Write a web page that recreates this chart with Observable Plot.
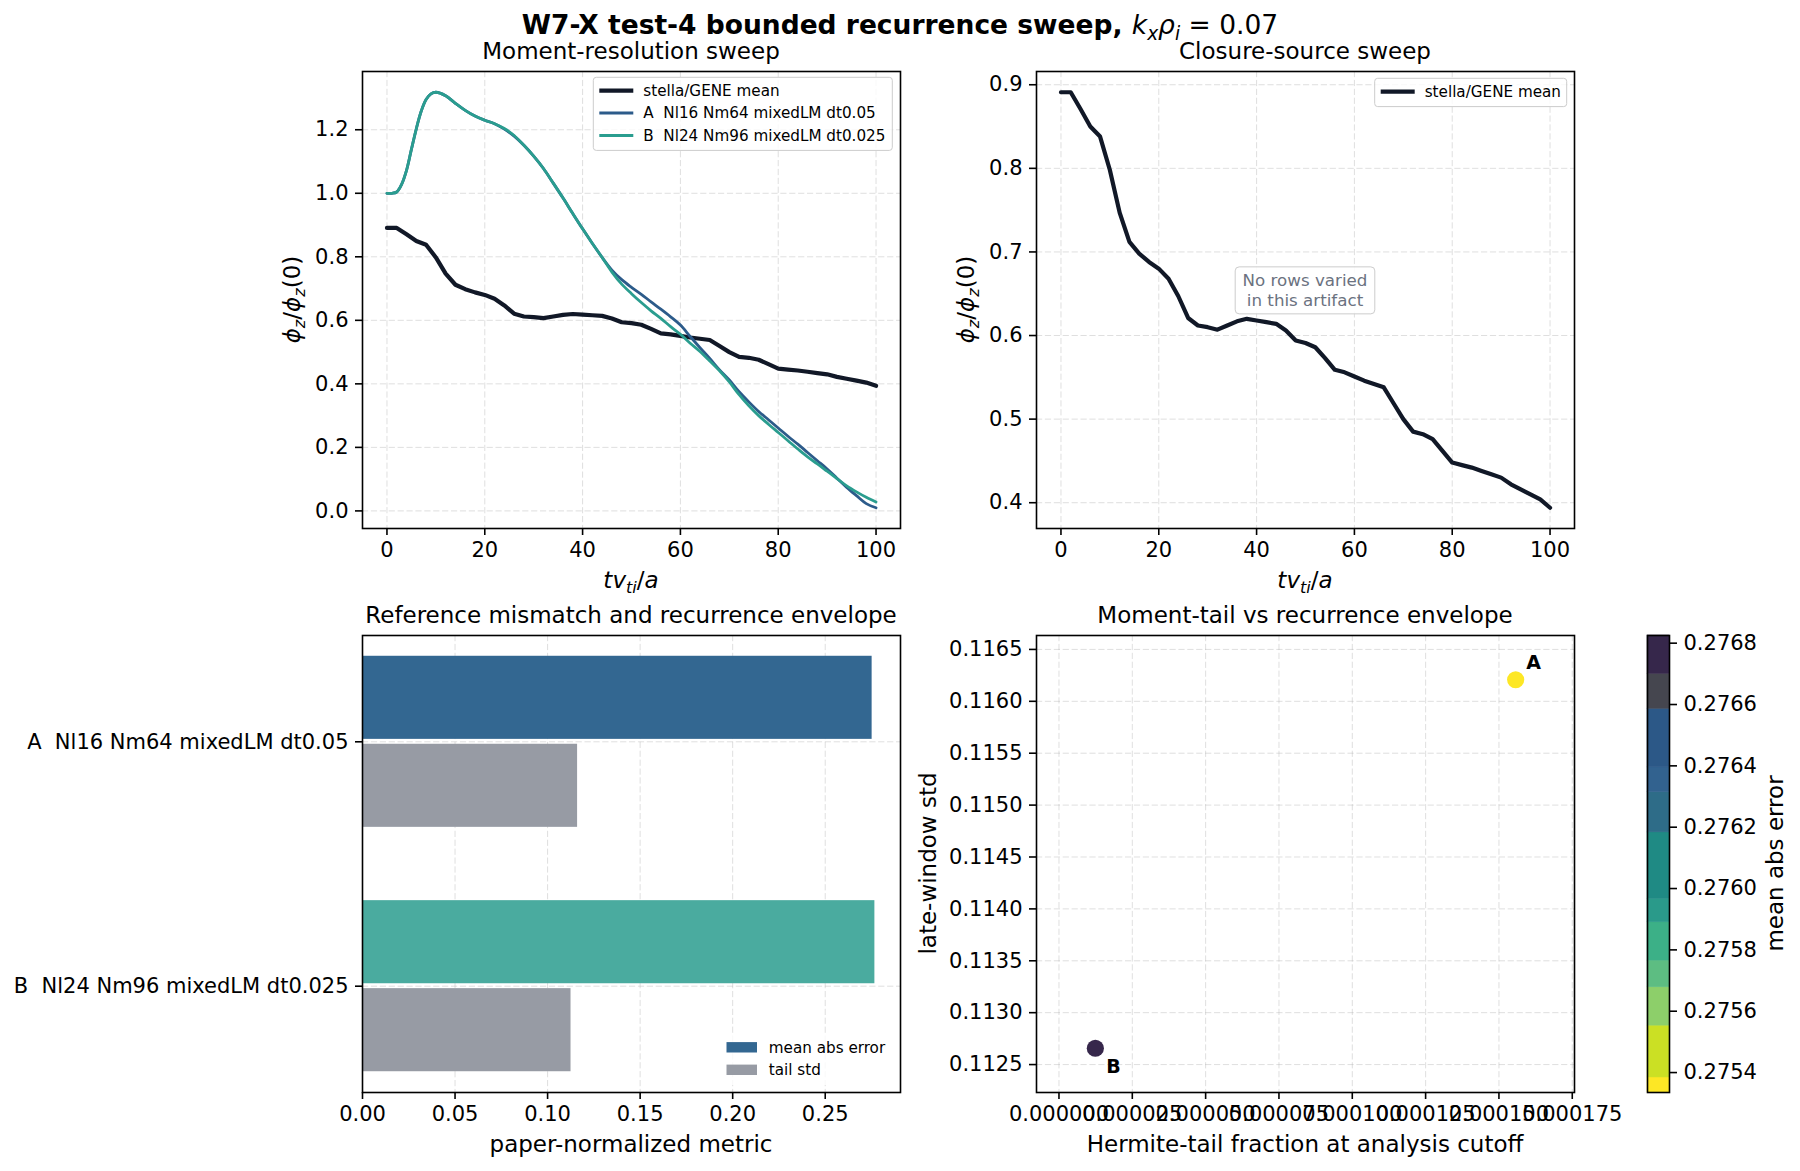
<!DOCTYPE html>
<html>
<head>
<meta charset="utf-8">
<script src="https://cdn.jsdelivr.net/npm/d3@7"></script>
<script src="https://cdn.jsdelivr.net/npm/@observablehq/plot@0.6"></script>
<style>
  body { margin: 0; background: #fff; }
  #fig { position: relative; width: 1800px; height: 1171px; background: #fff; overflow: hidden;
         font-family: "DejaVu Sans", sans-serif; }
  .panel { position: absolute; }
  .panel svg { overflow: visible; }
  #overlay { position: absolute; left: 0; top: 0; pointer-events: none; }
  #overlay text, #overlay tspan { white-space: pre; }
</style>
</head>
<body>
<div id="fig"></div>
<script>
// ---- stella/GENE reference mean, phi_z / phi_z(0) against t v_ti / a ----
const timeMean = [0, 2, 4, 6, 8, 10, 12, 14, 16, 18, 20, 22, 24, 26, 28, 30, 32, 34, 36, 38, 40,
  42, 44, 46, 48, 50, 52, 54, 56, 58, 60, 62, 64, 66, 68, 70, 72, 74, 76, 78, 80,
  82, 84, 86, 88, 90, 92, 94, 96, 98, 100];
const phiMean = [0.891, 0.891, 0.871, 0.850, 0.838, 0.798, 0.747, 0.712, 0.698, 0.688, 0.680,
  0.668, 0.647, 0.621, 0.612, 0.610, 0.607, 0.612, 0.617, 0.620, 0.618,
  0.616, 0.614, 0.606, 0.594, 0.591, 0.586, 0.573, 0.559, 0.556, 0.551,
  0.546, 0.542, 0.538, 0.519, 0.500, 0.485, 0.482, 0.476, 0.462, 0.448,
  0.445, 0.442, 0.438, 0.434, 0.430, 0.422, 0.416, 0.410, 0.404, 0.394];

// ---- moment-resolution runs ----
const timeRun = [0, 1, 2, 3, 4, 5, 6, 7, 8, 9, 10, 12, 14, 16, 18, 20, 22, 24, 26, 28, 30,
  32, 34, 36, 38, 40, 42, 44, 46, 48, 50, 52, 54, 56, 58, 60, 62, 64, 66, 68, 70,
  72, 74, 76, 78, 80, 82, 84, 86, 88, 90, 92, 94, 96, 98, 100];
const phiRunA = [1.000, 1.000, 1.004, 1.028, 1.072, 1.138, 1.203, 1.258, 1.295, 1.313, 1.318,
  1.307, 1.283, 1.261, 1.243, 1.230, 1.219, 1.202, 1.180, 1.151, 1.117,
  1.078, 1.032, 0.985, 0.936, 0.888, 0.842, 0.798, 0.758, 0.728, 0.704,
  0.682, 0.658, 0.635, 0.611, 0.585, 0.549, 0.514, 0.480, 0.444, 0.412,
  0.375, 0.343, 0.313, 0.287, 0.261, 0.235, 0.210, 0.184, 0.158, 0.132,
  0.103, 0.074, 0.048, 0.023, 0.010];
const phiRunB = [1.000, 1.000, 1.004, 1.028, 1.072, 1.138, 1.203, 1.258, 1.295, 1.313, 1.318,
  1.307, 1.283, 1.261, 1.243, 1.230, 1.219, 1.204, 1.182, 1.151, 1.117,
  1.078, 1.032, 0.985, 0.936, 0.888, 0.842, 0.798, 0.752, 0.714, 0.684,
  0.656, 0.630, 0.606, 0.580, 0.556, 0.528, 0.502, 0.472, 0.441, 0.406,
  0.366, 0.331, 0.300, 0.273, 0.247, 0.221, 0.195, 0.170, 0.148, 0.125,
  0.102, 0.079, 0.060, 0.043, 0.028];

// ---- per-run summary metrics ----
const runTags = ["A", "B"];
const runNames = ["A  Nl16 Nm64 mixedLM dt0.05", "B  Nl24 Nm96 mixedLM dt0.025"];
const meanAbsError = [0.275335, 0.276825];
const tailStd = [0.116208, 0.112657];
const hermiteTail = [0.0001557, 0.0000124];

// ---- ticks ----
const timeTicks = [0, 20, 40, 60, 80, 100];
const phiTicksResolution = [0, 0.2, 0.4, 0.6, 0.8, 1.0, 1.2];
const phiTicksClosure = [0.4, 0.5, 0.6, 0.7, 0.8, 0.9];
const metricTicks = [0, 0.05, 0.10, 0.15, 0.20, 0.25];
const hermiteTicks = [0, 0.000025, 0.00005, 0.000075, 0.0001, 0.000125, 0.00015, 0.000175];
const stdTicks = [0.1125, 0.1130, 0.1135, 0.1140, 0.1145, 0.1150, 0.1155, 0.1160, 0.1165];
const errorTicks = [0.2754, 0.2756, 0.2758, 0.2760, 0.2762, 0.2764, 0.2766, 0.2768];

// ---- stepped colour map for mean abs error (band edges, low to high) ----
const errorBandEdges = [0.275384, 0.275553, 0.275678, 0.275765, 0.275890, 0.275966,
  0.276183, 0.276314, 0.276395, 0.276586, 0.276700];
const errorBandColors = ["#fde725", "#cbe024", "#8dcf6a", "#5dbd82", "#3cb087", "#2a9a8a",
  "#1f8a84", "#2e6c88", "#32628f", "#2c5887", "#45464f", "#36274b"];

// ---- styling ----
const FONT = '"DejaVu Sans", sans-serif';
const meanColor = "#111827";
const runColors = ["#2c5b8a", "#2a9d8f"];
const barColors = ["#336791", "#4aab9f"];
const tailColor = "#979ba4";
const tickStyle = {tickSize: 7, tickPadding: 7, strokeWidth: 1.6, fontSize: 21, label: null};
const gridStyle = {stroke: "#b0b0b0", strokeOpacity: 0.4, strokeWidth: 1, strokeDasharray: "6.2,2.7"};
const frameStyle = {stroke: "#000", strokeWidth: 1.6};
const legendFont = 15.2;

// plot-area boxes in figure pixels
const frames = {
  resolution: {x: 362, y: 71, w: 538, h: 457},
  closure: {x: 1036, y: 71, w: 538, h: 457},
  mismatch: {x: 362, y: 635, w: 538, h: 457},
  tail: {x: 1036, y: 635, w: 538, h: 457},
  colorbar: {x: 1647, y: 635, w: 22, h: 457}
};

const fig = document.getElementById("fig");
const pad = (values, f) => {
  const [a, b] = d3.extent(values);
  const m = (b - a) * f;
  return [a - m, b + m];
};

function panel(frame, margin, options) {
  const width = frame.w + margin.left + margin.right;
  const height = frame.h + margin.top + margin.bottom;
  const svg = Plot.plot({
    width, height,
    marginLeft: margin.left, marginRight: margin.right,
    marginTop: margin.top, marginBottom: margin.bottom,
    style: {fontFamily: FONT, fontSize: "21px", color: "#000", background: "transparent", overflow: "visible"},
    ...options
  });
  svg.style.maxWidth = "none";
  const holder = document.createElement("div");
  holder.className = "panel";
  Object.assign(holder.style, {
    left: `${frame.x - margin.left}px`, top: `${frame.y - margin.top}px`,
    width: `${width}px`, height: `${height}px`
  });
  holder.appendChild(svg);
  fig.appendChild(holder);
}

const meanRows = timeMean.map((t, i) => ({t, phi: phiMean[i]}));
const runRowsA = timeRun.map((t, i) => ({t, phi: phiRunA[i]}));
const runRowsB = timeRun.map((t, i) => ({t, phi: phiRunB[i]}));
const timeDomain = pad(timeMean, 0.05);
const stdMargin = {top: 20, right: 20, bottom: 70, left: 130};

// ---- Moment-resolution sweep ----
panel(frames.resolution, stdMargin, {
  x: {domain: timeDomain},
  y: {domain: pad([...phiMean, ...phiRunA, ...phiRunB], 0.05)},
  marks: [
    Plot.gridX({ticks: timeTicks, ...gridStyle}),
    Plot.gridY({ticks: phiTicksResolution, ...gridStyle}),
    Plot.line(meanRows, {x: "t", y: "phi", stroke: meanColor, strokeWidth: 4.2, strokeLinejoin: "round"}),
    Plot.line(runRowsA, {x: "t", y: "phi", stroke: runColors[0], strokeWidth: 2.8, curve: "catmull-rom"}),
    Plot.line(runRowsB, {x: "t", y: "phi", stroke: runColors[1], strokeWidth: 2.8, curve: "catmull-rom"}),
    Plot.frame(frameStyle),
    Plot.axisX({ticks: timeTicks, ...tickStyle}),
    Plot.axisY({ticks: phiTicksResolution, tickFormat: d3.format(".1f"), ...tickStyle})
  ]
});

// ---- Closure-source sweep ----
panel(frames.closure, stdMargin, {
  x: {domain: timeDomain},
  y: {domain: pad(phiMean, 0.05)},
  marks: [
    Plot.gridX({ticks: timeTicks, ...gridStyle}),
    Plot.gridY({ticks: phiTicksClosure, ...gridStyle}),
    Plot.line(meanRows, {x: "t", y: "phi", stroke: meanColor, strokeWidth: 4.2, strokeLinejoin: "round"}),
    Plot.frame(frameStyle),
    Plot.axisX({ticks: timeTicks, ...tickStyle}),
    Plot.axisY({ticks: phiTicksClosure, tickFormat: d3.format(".1f"), ...tickStyle})
  ]
});

// ---- Reference mismatch and recurrence envelope (dodged horizontal bars) ----
const barHalf = 0.17, barShift = 0.18;
const barRows = runNames.map((name, i) => ({i, name, mae: meanAbsError[i], std: tailStd[i], fill: barColors[i]}));
const runIndex = runNames.map((_, i) => i);
panel(frames.mismatch, {top: 20, right: 20, bottom: 70, left: 360}, {
  x: {domain: [0, d3.max(meanAbsError) * 1.05]},
  y: {domain: pad([-barShift - barHalf, runNames.length - 1 + barShift + barHalf], 0.05), reverse: true},
  color: {type: "identity"},
  marks: [
    Plot.gridX({ticks: metricTicks, ...gridStyle}),
    Plot.gridY({ticks: runIndex, ...gridStyle}),
    Plot.rect(barRows, {x1: () => 0, x2: "mae", y1: d => d.i - barShift - barHalf, y2: d => d.i - barShift + barHalf, fill: "fill"}),
    Plot.rect(barRows, {x1: () => 0, x2: "std", y1: d => d.i + barShift - barHalf, y2: d => d.i + barShift + barHalf, fill: tailColor}),
    Plot.frame(frameStyle),
    Plot.axisX({ticks: metricTicks, tickFormat: d3.format(".2f"), ...tickStyle}),
    Plot.axisY({ticks: runIndex, tickFormat: i => runNames[i], ...tickStyle})
  ]
});

// ---- Moment-tail vs recurrence envelope ----
const errorColor = {type: "threshold", domain: errorBandEdges, range: errorBandColors};
const scatterRows = runTags.map((tag, i) => ({tag, tail: hermiteTail[i], std: tailStd[i], mae: meanAbsError[i]}));
panel(frames.tail, stdMargin, {
  x: {domain: pad(hermiteTail, 0.14)},
  y: {domain: pad(tailStd, 0.12)},
  color: errorColor,
  marks: [
    Plot.gridX({ticks: hermiteTicks, ...gridStyle}),
    Plot.gridY({ticks: stdTicks, ...gridStyle}),
    Plot.dot(scatterRows, {x: "tail", y: "std", fill: "mae", r: 8.6}),
    Plot.text(scatterRows, {filter: d => d.tag === "A", x: "tail", y: "std", text: "tag",
      dx: 10.5, dy: -17, textAnchor: "start", fontWeight: "bold", fontSize: 19}),
    Plot.text(scatterRows, {filter: d => d.tag === "B", x: "tail", y: "std", text: "tag",
      dx: 11, dy: 19, textAnchor: "start", fontWeight: "bold", fontSize: 19}),
    Plot.frame(frameStyle),
    Plot.axisX({ticks: hermiteTicks, tickFormat: d3.format(".6f"), ...tickStyle}),
    Plot.axisY({ticks: stdTicks, tickFormat: d3.format(".4f"), ...tickStyle})
  ]
});

// ---- colour bar for mean abs error ----
const errorExtent = d3.extent(meanAbsError);
const bandBounds = [errorExtent[0], ...errorBandEdges, errorExtent[1]];
const bands = errorBandColors.map((_, i) => ({lo: bandBounds[i], hi: bandBounds[i + 1]}));
panel(frames.colorbar, {top: 20, right: 120, bottom: 20, left: 10}, {
  x: {domain: [0, 1], axis: null},
  y: {domain: errorExtent},
  color: errorColor,
  marks: [
    Plot.rect(bands, {x1: () => 0, x2: () => 1, y1: "lo", y2: "hi",
      fill: d => (d.lo + d.hi) / 2, stroke: d => (d.lo + d.hi) / 2, strokeWidth: 0.5}),
    Plot.frame(frameStyle),
    Plot.axisY({anchor: "right", ticks: errorTicks, tickFormat: d3.format(".4f"), ...tickStyle})
  ]
});

// ---- titles, axis labels, legends ----
const overlay = d3.select(fig).append("svg").attr("id", "overlay")
  .attr("width", 1800).attr("height", 1171)
  .style("font-family", FONT);

function richText(parent, parts, size) {
  const text = parent.append("text").attr("text-anchor", "middle").attr("font-size", size).attr("fill", "#000");
  let shift = 0;
  for (const p of parts) {
    const target = p.sub ? size * 0.22 : 0;
    const span = text.append("tspan").text(p.t);
    if (p.it) span.attr("font-style", "italic");
    if (p.bold) span.attr("font-weight", "bold");
    if (p.sub) span.attr("font-size", size * 0.7);
    if (target !== shift) span.attr("dy", target - shift);
    shift = target;
  }
  return text;
}

// figure title
richText(overlay.append("g").attr("transform", "translate(900,34)"), [
  {t: "W7-X test-4 bounded recurrence sweep, ", bold: true},
  {t: "k", it: true}, {t: "x", it: true, sub: true},
  {t: "ρ", it: true}, {t: "i", it: true, sub: true},
  {t: " = 0.07"}
], 26.5);

// panel titles
const panelTitles = [
  ["Moment-resolution sweep", frames.resolution],
  ["Closure-source sweep", frames.closure],
  ["Reference mismatch and recurrence envelope", frames.mismatch],
  ["Moment-tail vs recurrence envelope", frames.tail]
];
for (const [label, f] of panelTitles) {
  overlay.append("text").attr("x", f.x + f.w / 2).attr("y", f.y - 12.5)
    .attr("text-anchor", "middle").attr("font-size", 23).text(label);
}

// axis labels
const timeLabel = [{t: "tv", it: true}, {t: "ti", it: true, sub: true}, {t: "/"}, {t: "a", it: true}];
const phiLabel = [{t: "ϕ", it: true}, {t: "z", it: true, sub: true}, {t: "/"},
  {t: "ϕ", it: true}, {t: "z", it: true, sub: true}, {t: "(0)"}];
for (const f of [frames.resolution, frames.closure]) {
  richText(overlay.append("g").attr("transform", `translate(${f.x + f.w / 2},${f.y + f.h + 60})`), timeLabel, 23);
  richText(overlay.append("g").attr("transform", `translate(${f.x - 62},${f.y + f.h / 2}) rotate(-90)`), phiLabel, 23);
}
richText(overlay.append("g").attr("transform", `translate(${frames.mismatch.x + frames.mismatch.w / 2},${frames.mismatch.y + frames.mismatch.h + 60})`),
  [{t: "paper-normalized metric"}], 23);
richText(overlay.append("g").attr("transform", `translate(${frames.tail.x + frames.tail.w / 2},${frames.tail.y + frames.tail.h + 60})`),
  [{t: "Hermite-tail fraction at analysis cutoff"}], 23);
richText(overlay.append("g").attr("transform", `translate(${frames.tail.x - 100},${frames.tail.y + frames.tail.h / 2}) rotate(-90)`),
  [{t: "late-window std"}], 23);
richText(overlay.append("g").attr("transform", `translate(${frames.colorbar.x + 136},${frames.colorbar.y + frames.colorbar.h / 2}) rotate(-90)`),
  [{t: "mean abs error"}], 23);

// line legends
function lineLegend(x, y, w, entries) {
  const rowStep = 22.4, padTop = 13.4;
  const h = padTop * 2 + rowStep * (entries.length - 1) + 1.5;
  const g = overlay.append("g").attr("transform", `translate(${x},${y})`);
  g.append("rect").attr("width", w).attr("height", h).attr("rx", 3)
    .attr("fill", "#fff").attr("fill-opacity", 0.8).attr("stroke", "#cccccc").attr("stroke-width", 1);
  entries.forEach(([label, color, width], i) => {
    const cy = padTop + i * rowStep;
    g.append("line").attr("x1", 6).attr("x2", 40).attr("y1", cy).attr("y2", cy)
      .attr("stroke", color).attr("stroke-width", width);
    g.append("text").attr("x", 50).attr("y", cy + 5.4).attr("font-size", legendFont).text(label);
  });
}
lineLegend(593.3, 77.3, 299, [
  ["stella/GENE mean", meanColor, 4.2],
  [runNames[0], runColors[0], 3],
  [runNames[1], runColors[1], 3]
]);
lineLegend(1374.7, 78.3, 192, [["stella/GENE mean", meanColor, 4.2]]);

// bar legend
{
  const g = overlay.append("g").attr("transform", "translate(720.7,1035)");
  g.append("rect").attr("width", 172).attr("height", 50).attr("fill", "#fff").attr("fill-opacity", 0.8);
  [["mean abs error", barColors[0]], ["tail std", tailColor]].forEach(([label, color], i) => {
    const cy = 12.3 + i * 22.5;
    g.append("rect").attr("x", 5.8).attr("y", cy - 5.2).attr("width", 30.5).attr("height", 10.4).attr("fill", color);
    g.append("text").attr("x", 48.1).attr("y", cy + 5.4).attr("font-size", legendFont).text(label);
  });
}

// note box on the closure panel
{
  const f = frames.closure;
  const cx = f.x + f.w / 2, cy = f.y + f.h * 0.48;
  const g = overlay.append("g").attr("transform", `translate(${cx},${cy})`);
  g.append("rect").attr("x", -69.8).attr("y", -23.5).attr("width", 139.6).attr("height", 47).attr("rx", 4)
    .attr("fill", "#fff").attr("fill-opacity", 0.9).attr("stroke", "#cccccc").attr("stroke-width", 1);
  ["No rows varied", "in this artifact"].forEach((line, i) => {
    g.append("text").attr("x", 0).attr("y", -4 + i * 19.3).attr("text-anchor", "middle")
      .attr("font-size", 16.7).attr("fill", "#6b7280").text(line);
  });
}
</script>
</body>
</html>
